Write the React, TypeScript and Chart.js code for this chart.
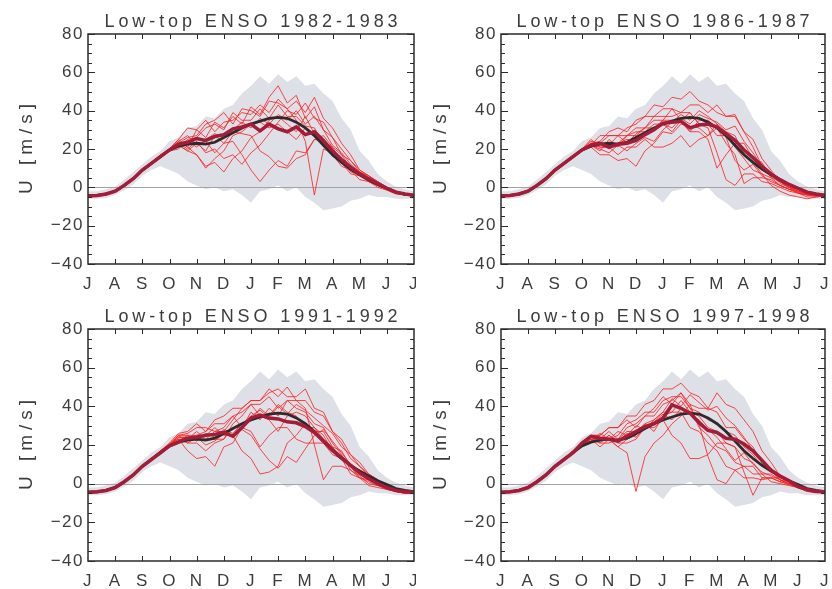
import React, { useEffect, useRef } from 'react';
import { Chart, registerables } from 'chart.js';

Chart.register(...registerables);

// x positions: dekads (10-day steps) from 1 July (0) to 1 July (36)
const DEKADS = [0, 1, 2, 3, 4, 5, 6, 7, 8, 9, 10, 11, 12, 13, 14, 15, 16, 17, 18, 19, 20, 21, 22, 23, 24, 25, 26, 27, 28, 29, 30, 31, 32, 33, 34, 35, 36];
const MONTH_LABELS = ['J', 'A', 'S', 'O', 'N', 'D', 'J', 'F', 'M', 'A', 'M', 'J', 'J'];
const Y_TICKS = [-40, -20, 0, 20, 40, 60, 80];

// climatology (dark line) and climatological spread (grey band)
const CLIM = [-4.5, -4.2, -3.5, -2, 1, 4.5, 9, 12.5, 16, 19.5, 21.5, 22.5, 23, 22.5, 23.5, 26, 28.5, 31, 33, 34.5, 36, 36.5, 36, 34, 31, 27, 22, 17, 13, 9.5, 6.5, 4, 1.5, -0.5, -2.5, -3.5, -4.2];
const ENV_HI = [-2, -2, -1, 0.5, 4, 8, 12, 16, 19, 24, 26, 31, 32, 37, 36, 41, 43, 49, 53, 58, 54, 59, 55, 58, 53, 54, 49, 45, 36, 30, 19, 14, 7, 3, 0.5, -1, -2];
const ENV_LO = [-6, -6, -5.5, -4, -1.5, 1.5, 6, 9, 11, 9, 7, 3, 1, -1, 0, -2, -1, -4, -8, -2, -1, 1, -2, 0, -5, -8, -12, -11, -10, -7, -6, -4, -5, -5, -6, -6, -6];

// 1982-1983
const MEAN_1982 = [-4.5, -4.2, -3.5, -2, 1, 4.5, 9, 12.5, 16, 19.5, 22.5, 23.5, 25.5, 24.5, 26.5, 27.5, 30.5, 31.5, 33, 29.5, 33, 30.5, 29, 31.5, 27.5, 29, 24.5, 19, 14.5, 10.5, 7, 4.5, 2, -0.5, -2.5, -3.5, -4.2];
const MEMBERS_1982 = [
  [-4, -4.5, -3, -2, 1.5, 5, 9.5, 13, 16.5, 20, 24, 21, 30, 26, 34, 31, 37, 33, 42, 38, 47, 53, 44, 48, 36, 42, 30, 26, 17, 14, 8, 6, 3, 0, -2, -3.5, -4],
  [-4.5, -4, -3.5, -2.5, 0.5, 4, 8.5, 12, 16, 20, 22, 19, 17, 11, 13, 8, 15, 19, 26, 29, 35, 37, 33, 29, 37, 28, 25, 16, 15, 9, 7, 3, 2, -1, -3, -4, -4.5],
  [-5, -4, -3.5, -2, 1, 4.5, 9, 13, 16, 19, 23, 26, 27, 33, 35, 39, 33, 41, 40, 37, 45, 44, 41, 35, 24, -4, 20, 18, 15, 8, 7, 3, 1, -1, -3, -4, -4.5],
  [-4, -4.5, -3.5, -1.5, 1, 5, 9, 12.5, 16, 19.5, 24, 27, 22, 24, 18, 23, 24, 17, 9, 3, 9, 14, 11, 19, 18, 25, 27, 21, 17, 10, 8, 4, 1, -1, -3, -4, -4],
  [-4.5, -4, -3, -2, 1, 4, 8.5, 12, 16, 20, 25, 31, 30, 35, 29, 34, 35, 39, 38, 43, 39, 46, 41, 45, 39, 47, 36, 31, 23, 17, 9, 6, 3, 0, -2, -4, -4.5],
  [-4, -4, -3.5, -2, 1.5, 4.5, 9, 13, 17, 20, 22, 19, 23, 19, 27, 23, 29, 28, 27, 19, 16, 11, 10, 15, 17, 25, 24, 21, 13, 11, 6, 4, 1, -1, -3, -3.5, -4],
  [-4.5, -4.5, -3.5, -2, 0.5, 4, 8.5, 12, 15.5, 19, 20, 25, 26, 31, 33, 30, 39, 35, 35, 41, 36, 43, 37, 37, 32, 31, 23, 17, 11, 9, 4, 3, 0, -1.5, -3.5, -4, -4.5],
  [-4, -4, -3, -2, 1, 5, 9.5, 13, 16.5, 20, 25, 21, 17, 10, 15, 19, 27, 29, 33, 34, 31, 33, 29, 25, 31, 27, 23, 17, 13, 7, 6, 3, 1, -1, -3, -4, -4],
  [-4.5, -4, -3.5, -2, 1, 4.5, 9, 12.5, 16, 20, 22, 24, 21, 25, 28, 26, 30, 34, 31, 36, 33, 38, 35, 40, 33, 37, 30, 22, 18, 12, 8, 5, 2, -1, -3, -4, -4.5],
  [-4, -4.5, -3.5, -2, 1, 4.5, 9, 13, 16.5, 20, 23, 20, 24, 18, 20, 15, 17, 12, 18, 22, 28, 34, 40, 38, 44, 36, 34, 26, 20, 14, 9, 6, 2, 0, -2, -3.5, -4],
];

// 1986-1987
const MEAN_1986 = [-4.5, -4.2, -3.5, -2, 1, 4.5, 9, 12.5, 16, 19.5, 22, 23, 21, 22.5, 23, 24.5, 27.5, 30, 33.5, 34, 34.5, 31, 32.5, 33, 31.5, 28, 24.5, 19.5, 15.5, 11, 7, 4, 1.5, -0.5, -2.5, -3.5, -4.2];
const MEMBERS_1986 = [
  [-4.5, -4, -3.5, -2, 1, 4.5, 9, 13, 16.5, 20, 23, 24, 29, 31, 29, 35, 37, 43, 42, 47, 46, 50, 45, 43, 39, 37, 38, 29, 21, 11, 7, 3, 1, -1, -3, -4, -4.5],
  [-4, -4.5, -3.5, -2, 1, 4, 8.5, 12, 16, 19, 21, 17, 17, 14, 15, 11, 19, 23, 29, 28, 33, 32, 31, 27, 33, 29, 27, 17, 13, 7, 5, 1, -1, -2, -3.5, -4, -4],
  [-4.5, -4, -3, -1.5, 1.5, 5, 9.5, 13, 16.5, 20, 24, 23, 22, 27, 27, 31, 31, 37, 37, 37, 39, 39, 33, 31, 18, 4, 1, 7, 7, 3, 2, 0, -2, -3, -4, -4.5, -4.5],
  [-4, -4, -3.5, -2, 1, 4.5, 9, 12.5, 16, 19.5, 22, 19, 25, 21, 27, 27, 31, 31, 35, 35, 34, 29, 35, 35, 31, 23, 17, 2, 5, 5, 4, 1, -1, -3, -4, -4, -4],
  [-4.5, -4.5, -3.5, -2, 0.5, 4, 8.5, 12, 15.5, 19, 23, 23, 27, 27, 31, 33, 37, 37, 41, 41, 39, 43, 43, 39, 43, 37, 37, 29, 25, 15, 9, 3, 0, -2, -3.5, -4, -4.5],
  [-4, -4, -3, -2, 1, 5, 9, 13, 16.5, 20, 22, 21, 21, 17, 21, 21, 25, 21, 21, 23, 27, 21, 25, 27, 31, 27, 25, 19, 15, 9, 7, 2, 0, -3, -5, -5, -4.5],
  [-4.5, -4, -3.5, -2, 1, 4.5, 9, 12.5, 16, 19.5, 22, 27, 27, 27, 23, 28, 31, 35, 35, 41, 35, 39, 33, 33, 27, 27, 21, 15, 9, 7, 1, -2, -4, -5, -6, -5, -4.5],
  [-4, -4.5, -3.5, -2, 1, 4, 8.5, 12.5, 16, 20, 25, 21, 21, 23, 27, 29, 29, 33, 33, 29, 35, 29, 29, 25, 10, 17, 23, 23, 15, 13, 5, 3, 0, -1, -3, -4, -4],
  [-4.5, -4, -3.5, -2, 1, 4.5, 9, 12.5, 16, 19.5, 21, 23, 20, 23, 25, 24, 28, 30, 33, 31, 36, 33, 38, 36, 34, 30, 32, 24, 18, 11, 6, 3, 0, -2, -3.5, -4, -4.5],
  [-4, -4.5, -3.5, -2, 1, 4.5, 9, 13, 16.5, 20, 22, 20, 18, 22, 19, 23, 26, 24, 30, 34, 38, 35, 40, 37, 33, 26, 14, 9, 12, 6, 3, 1, -1, -2.5, -4, -4.5, -4],
];

// 1991-1992
const MEAN_1991 = [-4.5, -4.2, -3.5, -2, 1, 4.5, 9, 12.5, 16, 19.5, 21.5, 23.5, 24, 25, 25.5, 26.5, 24.5, 29, 34, 35.5, 34, 33.5, 32, 31.5, 29.5, 26.5, 22, 17.5, 13.5, 9.5, 5.5, 2.5, 0, -2, -3.5, -4.2, -4.5];
const MEMBERS_1991 = [
  [-4.5, -4, -3.5, -2, 1, 4.5, 9, 13, 17, 21, 26, 27, 31, 27, 33, 35, 39, 39, 43, 43, 47, 49, 45, 45, 49, 39, 37, 27, 21, 13, 9, 4, 1, -2, -4, -5, -5],
  [-4, -4.5, -3.5, -2, 1, 4, 8.5, 12.5, 16.5, 20, 23, 17, 13, 14, 9, 19, 21, 29, 33, 39, 35, 41, 37, 35, 29, 29, 23, 19, 13, 9, 3, 1, -1, -3, -4, -4.5, -4.5],
  [-4.5, -4, -3, -2, 1.5, 5, 9.5, 13, 17, 20.5, 25, 25, 25, 25, 29, 25, 25, 17, 13, 5, 6, 9, 21, 25, 31, 27, 27, 19, 17, 9, 7, 3, 0, -2, -4, -5, -4.5],
  [-4, -4, -3.5, -1.5, 1, 4.5, 9, 13, 16.5, 20, 24, 24, 23, 23, 27, 29, 35, 37, 41, 41, 45, 39, 43, 43, 39, 20, 2, 9, 9, 7, 3, 2, 0, -2, -4, -4.5, -4.5],
  [-4.5, -4.5, -3.5, -2, 0.5, 4, 8.5, 12, 16, 19.5, 25, 26, 29, 29, 27, 27, 33, 39, 43, 43, 49, 45, 50, 43, 43, 37, 35, 27, 23, 15, 11, 5, 2, -1, -3, -4.5, -5],
  [-4, -4, -3, -2, 1, 4.5, 9, 13, 16.5, 20, 23, 23, 27, 23, 23, 23, 29, 29, 27, 19, 25, 29, 29, 23, 21, 21, 21, 15, 13, 9, 7, 3, 1, -2, -4, -5, -4.5],
  [-4.5, -4, -3.5, -2, 1, 4.5, 9, 12.5, 16, 20, 24, 24, 25, 27, 31, 31, 35, 29, 37, 33, 39, 35, 43, 39, 37, 31, 29, 21, 15, 7, 4, 0, -1, -2, -3, -4, -4.5],
  [-4, -4.5, -3.5, -2, 1, 4, 9, 12.5, 16.5, 20.5, 25, 21, 21, 17, 21, 23, 31, 35, 41, 35, 33, 27, 35, 37, 35, 29, 25, 17, 13, 5, 3, -1, -2, -3, -4, -4.5, -4.5],
  [-4.5, -4, -3.5, -2, 1, 4.5, 9, 12.5, 16, 20, 22, 25, 22, 26, 24, 28, 26, 31, 35, 38, 34, 40, 36, 41, 38, 34, 30, 26, 19, 15, 9, 5, 2, -1, -3, -4, -4.5],
  [-4, -4.5, -3.5, -2, 1, 4.5, 9, 13, 16.5, 20.5, 23, 21, 24, 20, 22, 26, 24, 28, 25, 18, 12, 8, 14, 11, 18, 25, 28, 22, 16, 10, 6, 2, 0, -2, -4, -4.5, -4.5],
];

// 1997-1998
const MEAN_1997 = [-4.5, -4.2, -3.5, -2, 1, 4.5, 9, 12.5, 16, 21, 24.5, 23.5, 23, 22, 24.5, 27, 29.5, 31, 34, 40.7, 39, 36.5, 31.5, 27.5, 26.5, 23.5, 23, 20.5, 17, 12, 7, 4, 1.5, -1.5, -3, -4, -4.2];
const MEMBERS_1997 = [
  [-4.5, -4, -3.5, -2, 1, 4.5, 9, 13, 17, 21, 25, 25, 29, 29, 35, 35, 41, 43, 49, 49, 52, 47, 45, 39, 37, 29, 29, 23, 19, 11, 7, 2, 0, -2, -3.5, -4.5, -4.5],
  [-4, -4.5, -3.5, -2, 1, 4, 8.5, 12.5, 16.5, 20, 23, 19, 23, 19, 16, -4, 14, 21, 25, 31, 35, 41, 29, 25, 19, 17, 11, 9, 5, 5, 1, 0, -1, -2, -4, -4.5, -4],
  [-4.5, -4, -3, -1.5, 1.5, 5, 9.5, 13, 17, 21, 24, 24, 23, 25, 31, 33, 37, 37, 43, 45, 45, 39, 31, 14, 2, 0, 7, 9, 9, 3, 3, 1, 0, -2, -3.5, -4, -4.5],
  [-4, -4, -3.5, -2, 1, 4.5, 9, 13, 16.5, 20, 23, 23, 27, 23, 29, 31, 35, 35, 41, 43, 47, 41, 39, 39, 47, 41, 39, 33, 27, 17, 11, 4, 2, -1, -3, -4, -4.5],
  [-4.5, -4.5, -3.5, -2, 0.5, 4, 8.5, 12, 16, 19.5, 24, 21, 21, 23, 27, 27, 31, 33, 37, 37, 43, 37, 35, 29, 27, 21, 19, 6, -6, 3, 3, 3, 1, -1, -3, -4, -4.5],
  [-4, -4, -3, -2, 1, 4.5, 9, 13, 16.5, 20, 22, 22, 25, 21, 21, 23, 29, 29, 33, 25, 21, 13, 13, 15, 21, 21, 19, 13, 11, 5, 5, 2, 0, -2, -3.5, -4, -4],
  [-4.5, -4, -3.5, -2, 1, 4.5, 9, 12.5, 16, 20, 25, 25, 29, 29, 33, 29, 35, 39, 45, 41, 47, 39, 37, 33, 31, 27, 25, 19, 15, 9, 7, 2, 1, -1, -3, -4, -4.5],
  [-4, -4.5, -3.5, -2, 1, 4, 9, 12.5, 16.5, 20.5, 24, 24, 23, 19, 23, 25, 31, 27, 35, 37, 37, 29, 27, 21, 17, 9, 7, 3, 3, 2, 3, 1, -0.5, -2, -4, -4.5, -4.5],
  [-4.5, -4, -3.5, -2, 1, 4.5, 9, 12.5, 16, 20, 22, 26, 23, 27, 25, 30, 28, 33, 37, 44, 40, 46, 42, 38, 40, 34, 30, 24, 17, 12, 8, 4, 1, -1.5, -3, -4, -4.5],
  [-4, -4.5, -3.5, -2, 1, 4.5, 9, 13, 16.5, 20.5, 23, 21, 25, 22, 26, 24, 29, 32, 36, 33, 39, 36, 33, 28, 24, 18, 12, 16, 10, 6, 4, 2, 0, -2, -3.5, -4.5, -4],
];

const PANELS = [
  { title: 'Low-top ENSO 1982-1983', mean: MEAN_1982, members: MEMBERS_1982, left: 0, top: 0, areaLeft: 88, areaRight: 414, areaBottom: 264, yTitleX: 27 },
  { title: 'Low-top ENSO 1986-1987', mean: MEAN_1986, members: MEMBERS_1986, left: 416, top: 0, areaLeft: 85, areaRight: 409, areaBottom: 264, yTitleX: 25 },
  { title: 'Low-top ENSO 1991-1992', mean: MEAN_1991, members: MEMBERS_1991, left: 0, top: 295, areaLeft: 88, areaRight: 414, areaBottom: 266, yTitleX: 27 },
  { title: 'Low-top ENSO 1997-1998', mean: MEAN_1997, members: MEMBERS_1997, left: 416, top: 295, areaLeft: 85, areaRight: 409, areaBottom: 266, yTitleX: 25 },
];

const W = 416;
const H = 294;
const FONT = '"Liberation Sans", Arial, sans-serif';
const TEXT = '#3c3c3c';

const framePlugin = {
  id: 'frame',
  beforeDraw(chart: any) {
    chart.ctx.letterSpacing = '1.5px';
  },
  afterDatasetDraw(chart: any, args: any, opts: any) {
    if (args.index !== opts.zeroAfter) return;
    const { ctx, chartArea: a, scales } = chart;
    const py = Math.round(scales.y.getPixelForValue(0)) + 0.5;
    ctx.save();
    ctx.strokeStyle = '#a3a3a3';
    ctx.lineWidth = 1;
    ctx.beginPath();
    ctx.moveTo(a.left, py);
    ctx.lineTo(a.right, py);
    ctx.stroke();
    ctx.restore();
  },
  afterDraw(chart: any, _args: any, opts: any) {
    const { ctx, chartArea: a, scales } = chart;
    const x = scales.x;
    const y = scales.y;
    ctx.save();
    ctx.letterSpacing = '0px';
    ctx.strokeStyle = '#2b2b2b';
    ctx.lineWidth = 1.5;
    ctx.strokeRect(a.left, a.top, a.right - a.left, a.bottom - a.top);
    ctx.lineWidth = 1;
    ctx.beginPath();
    for (let v = y.min; v <= y.max; v += 5) {
      const len = v % 20 === 0 ? 7 : 4;
      const py = Math.round(y.getPixelForValue(v)) + 0.5;
      ctx.moveTo(a.left, py); ctx.lineTo(a.left + len, py);
      ctx.moveTo(a.right, py); ctx.lineTo(a.right - len, py);
    }
    for (let m = x.min + 3; m < x.max; m += 3) {
      const px = Math.round(x.getPixelForValue(m)) + 0.5;
      ctx.moveTo(px, a.top); ctx.lineTo(px, a.top + 5);
      ctx.moveTo(px, a.bottom); ctx.lineTo(px, a.bottom - 5);
    }
    ctx.stroke();

    ctx.fillStyle = TEXT;
    ctx.font = `18px ${FONT}`;
    ctx.letterSpacing = '3.9px';
    ctx.textAlign = 'center';
    ctx.textBaseline = 'alphabetic';
    ctx.fillText(opts.title, (a.left + a.right) / 2 + 2, 27);

    ctx.translate(opts.yTitleX, (a.top + a.bottom) / 2);
    ctx.rotate(-Math.PI / 2);
    ctx.font = `19px ${FONT}`;
    ctx.letterSpacing = '5px';
    ctx.textBaseline = 'middle';
    ctx.fillText('U [m/s]', 2.5, 0);
    ctx.restore();
    ctx.letterSpacing = '0px';
  },
};

function Panel({ cfg }: { cfg: any }) {
  const ref = useRef<HTMLCanvasElement>(null);
  useEffect(() => {
    if (!ref.current) return;
    const memberSets = cfg.members.map((m: number[]) => ({
      data: m,
      borderColor: 'rgba(255,32,32,0.82)',
      borderWidth: 1,
      order: 2,
    }));
    const datasets: any[] = [
      { data: cfg.mean, borderColor: '#a31d38', borderWidth: 3.5, order: 0 },
      { data: CLIM, borderColor: '#2e2a2c', borderWidth: 2.8, order: 1 },
      ...memberSets,
      { data: ENV_HI, borderColor: 'rgba(0,0,0,0)', borderWidth: 1, backgroundColor: '#dde0e7', fill: '+1', order: 10 },
      { data: ENV_LO, borderColor: 'rgba(0,0,0,0)', borderWidth: 1, fill: false, order: 10 },
    ];
    const envHiIndex = datasets.length - 2;
    const chart = new Chart(ref.current, {
      type: 'line',
      data: { labels: DEKADS, datasets },
      options: {
        responsive: false,
        animation: false,
        devicePixelRatio: 1,
        events: [],
        layout: { padding: { left: 0, top: 34, right: W - cfg.areaRight, bottom: 0 } },
        elements: { point: { radius: 0 }, line: { tension: 0 } },
        plugins: {
          legend: { display: false },
          tooltip: { enabled: false },
          frame: { title: cfg.title, yTitleX: cfg.yTitleX, zeroAfter: envHiIndex },
        } as any,
        scales: {
          x: {
            type: 'linear',
            min: 0,
            max: 36,
            grid: { display: false, drawTicks: false },
            border: { display: false },
            afterBuildTicks: (s: any) => {
              s.ticks = MONTH_LABELS.map((_, i) => ({ value: i * 3 }));
            },
            ticks: {
              autoSkip: false,
              maxRotation: 0,
              padding: 10,
              color: TEXT,
              font: { family: FONT, size: 17 },
              callback: (v: any) => MONTH_LABELS[Math.round(Number(v) / 3)],
            },
            afterFit: (s: any) => {
              s.height = H - cfg.areaBottom;
              s.paddingLeft = 0;
              s.paddingRight = 0;
            },
          },
          y: {
            type: 'linear',
            min: -40,
            max: 80,
            grid: { display: false, drawTicks: false },
            border: { display: false },
            afterBuildTicks: (s: any) => {
              s.ticks = Y_TICKS.map((v) => ({ value: v }));
            },
            ticks: {
              padding: 4,
              color: TEXT,
              font: { family: FONT, size: 17 },
              callback: (v: any) => (Number(v) < 0 ? '\u2212' + Math.abs(Number(v)) : String(v)),
            },
            afterFit: (s: any) => {
              s.width = cfg.areaLeft;
              s.paddingTop = 0;
              s.paddingBottom = 0;
            },
          },
        },
      } as any,
      plugins: [framePlugin as any],
    });
    return () => chart.destroy();
  }, [cfg]);
  return (
    <canvas
      ref={ref}
      width={W}
      height={H}
      style={{ position: 'absolute', left: cfg.left, top: cfg.top, width: W, height: H }}
    />
  );
}

export default function App() {
  return (
    <div style={{ position: 'fixed', left: 0, top: 0, width: 832, height: 589, background: '#ffffff', overflow: 'hidden' }}>
      {PANELS.map((p) => (
        <Panel key={p.title} cfg={p} />
      ))}
    </div>
  );
}
